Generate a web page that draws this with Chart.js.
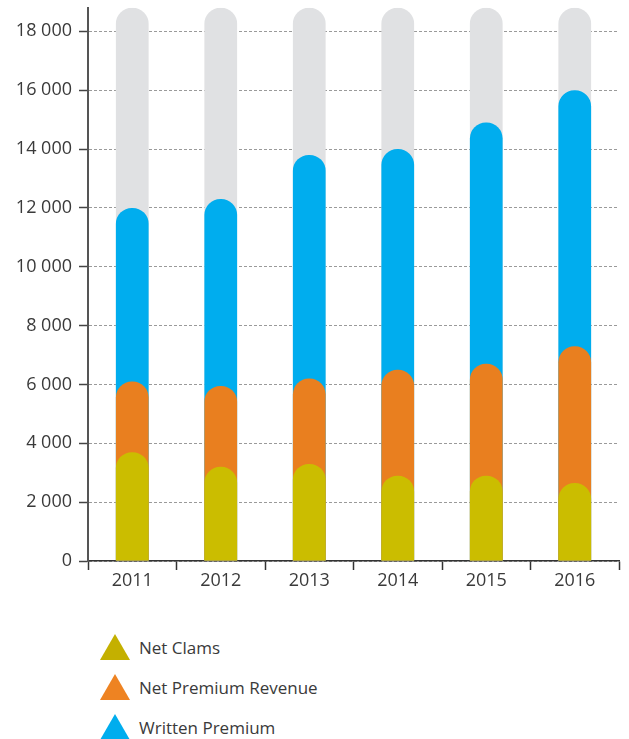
<!DOCTYPE html>
<html>
<head>
<meta charset="utf-8">
<script src="https://cdn.jsdelivr.net/npm/chart.js@4/dist/chart.umd.min.js"></script>
<style>
    body { margin: 0; background: #fff; font-family: "Open Sans", sans-serif; }
    #wrap { position: relative; width: 629px; height: 739px; overflow: hidden; }
    #chart { position: absolute; left: 0; top: -10px; }
    #legend { position: absolute; left: 100px; top: 627px; }
    .item { height: 40px; display: flex; align-items: center; font-size: 17px; color: #3a3a3a; }
    .tri { width: 0; height: 0; border-left: 15px solid transparent; border-right: 15px solid transparent; border-bottom: 26px solid; margin-right: 9px; }
</style>
</head>
<body>
<div id="wrap">
    <canvas id="chart" width="629" height="610"></canvas>
    <div id="legend"></div>
</div>
<script>
    var years = ["2011", "2012", "2013", "2014", "2015", "2016"];
    var netClaims = [3700, 3200, 3300, 2900, 2900, 2650];
    var netPremiumRevenue = [6100, 5950, 6200, 6500, 6700, 7300];
    var writtenPremium = [12000, 12300, 13800, 14000, 14900, 16000];
    var background = [18800, 18800, 18800, 18800, 18800, 18800];
    var yTicks = [0, 2000, 4000, 6000, 8000, 10000, 12000, 14000, 16000, 18000];

    var labels = ["Net Clams", "Net Premium Revenue", "Written Premium"];
    var colors = ["#cbbd00", "#e97f1f", "#00adee"];
    var legendColors = ["#c4b000", "#ee8322", "#00adee"];

    var radius = { topLeft: 16, topRight: 16, bottomLeft: 0, bottomRight: 0 };

    function barSet(label, data, color) {
        return {
            label: label,
            data: data,
            backgroundColor: color,
            borderWidth: 0,
            borderRadius: radius,
            borderSkipped: false,
            barPercentage: 0.37,
            categoryPercentage: 1,
            grouped: false
        };
    }

    var fontSpec = { family: "Open Sans", size: 18 };

    new Chart(document.getElementById("chart"), {
        type: "bar",
        data: {
            labels: years,
            datasets: [
                barSet(labels[0], netClaims, colors[0]),
                barSet(labels[1], netPremiumRevenue, colors[1]),
                barSet(labels[2], writtenPremium, colors[2]),
                barSet("", background, "#e0e1e3")
            ]
        },
        options: {
            responsive: false,
            animation: false,
            layout: { padding: { top: 7, right: 10, left: 0, bottom: 0 } },
            plugins: { legend: { display: false }, tooltip: { enabled: false } },
            scales: {
                x: {
                    afterFit: function(s) { s.height = 39; },
                    grid: {
                        offset: true,
                        drawOnChartArea: false,
                        tickLength: 9,
                        tickWidth: 1.5,
                        tickColor: function(c) { return c.index === years.length ? "rgba(0,0,0,0)" : "#333"; }
                    },
                    border: { color: "#333", width: 1.5 },
                    ticks: { color: "#3a3a3a", font: fontSpec, padding: 0 }
                },
                y: {
                    min: 0,
                    max: 18800,
                    z: 1,
                    afterFit: function(s) { s.width = 88; },
                    afterBuildTicks: function(s) {
                        s.ticks = yTicks.map(function(v) { return { value: v }; });
                    },
                    grid: {
                        color: "rgba(100,100,100,0.65)",
                        lineWidth: 1,
                        tickLength: 9,
                        tickColor: "#444",
                        tickWidth: 1.5,
                        tickBorderDash: []
                    },
                    border: { color: "#555", width: 2, dash: [3, 2] },
                    ticks: {
                        color: "#3a3a3a",
                        font: fontSpec,
                        padding: 7,
                        callback: function(v) { return String(v).replace(/\B(?=(\d{3})+$)/g, " "); }
                    }
                }
            }
        }
    });

    // legend built from the series names
    var legend = document.getElementById("legend");
    labels.forEach(function(name, i) {
        var row = document.createElement("div");
        row.className = "item";
        var tri = document.createElement("span");
        tri.className = "tri";
        tri.style.borderBottomColor = legendColors[i];
        row.appendChild(tri);
        row.appendChild(document.createTextNode(name));
        legend.appendChild(row);
    });
</script>
</body>
</html>
